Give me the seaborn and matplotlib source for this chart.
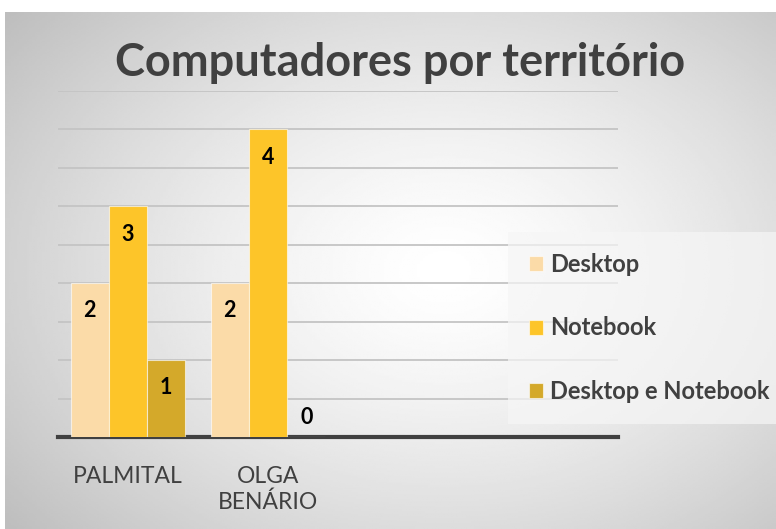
import numpy as np
import pandas as pd
import matplotlib.pyplot as plt
import seaborn as sns

# dados do gráfico
territorios = ["PALMITAL", "OLGA\nBENÁRIO"]
eixo_x = ["PALMITAL", "OLGA\nBENÁRIO", " ", "  "]
series = ["Desktop", "Notebook", "Desktop e Notebook"]
desktop = [2, 2]
notebook = [3, 4]
desktop_notebook = [1, 0]
cores = ["#FBDBA8", "#FDC529", "#D4A92A"]

df = pd.DataFrame({
    "territorio": territorios * 3,
    "tipo": [s for s in series for _ in territorios],
    "qtd": desktop + notebook + desktop_notebook,
})

sns.set_style("white")
plt.rcParams["font.family"] = ["Lato", "DejaVu Sans"]

fig = plt.figure(figsize=(7.76, 5.29), dpi=100)

# fundo com gradiente radial (estilo Excel)
bg = fig.add_axes([5 / 776, 0, 771 / 776, 517 / 529], zorder=-2)
yy, xx = np.mgrid[0:1:300j, 0:1:300j]
r = np.sqrt(((xx - 0.57) / 0.7) ** 2 + ((yy - 0.5) / 0.75) ** 2)
grad = np.clip(1 - 0.24 * r ** 1.4, 0, 1)
bg.imshow(grad, cmap="gray", vmin=0, vmax=1, aspect="auto", extent=[0, 1, 0, 1])
bg.axis("off")

ax = fig.add_axes([58 / 776, 1 - 437 / 529, 560 / 776, 346 / 529])
ax.patch.set_alpha(0)

sns.barplot(data=df, x="territorio", y="qtd", hue="tipo", order=eixo_x,
            hue_order=series, palette=cores, width=0.82, saturation=1,
            edgecolor=(1, 1, 1, 0.6), linewidth=0.8, ax=ax, zorder=3)

ax.set_ylim(0, 4.5)
ax.set_yticks(np.arange(0.5, 4.51, 0.5))
ax.set_yticklabels([])
ax.tick_params(axis="y", length=0)
ax.tick_params(axis="x", length=0, pad=21, labelsize=16.5, labelcolor="#404040")
for lbl in ax.get_xticklabels():
    lbl.set_linespacing(1.25)
ax.yaxis.grid(True, color="#c4c4c4", linewidth=1.3, zorder=0)
ax.set_axisbelow(True)
for s in ["top", "right", "left"]:
    ax.spines[s].set_visible(False)
ax.spines["bottom"].set_color("#404040")
ax.spines["bottom"].set_linewidth(3)
ax.set_xlabel("")
ax.set_ylabel("")

# rótulos de dados
for cont in ax.containers:
    for bar in cont:
        h = bar.get_height()
        if np.isnan(h):
            continue
        xc = bar.get_x() + bar.get_width() / 2
        y = h - 0.36 if h > 0 else 0.25
        ax.text(xc, y, f"{int(h)}", ha="center", va="center",
                fontsize=15.5, fontweight="bold", color="black", zorder=5)

handles, labels = ax.get_legend_handles_labels()
ax.legend(handles, labels, loc="upper left", bbox_to_anchor=(508 / 776, 1 - 232 / 529),
          bbox_transform=fig.transFigure, frameon=True, facecolor="#f6f6f6",
          framealpha=0.7, edgecolor="none", fancybox=False, borderpad=0.9,
          labelspacing=1.7, handlelength=0.6, handleheight=0.6, handletextpad=0.3,
          borderaxespad=0, prop={"weight": "bold", "size": 17}, labelcolor="#404040")

fig.text(0.515, 1 - 63 / 529, "Computadores por território", ha="center", va="center",
         fontsize=32.5, fontweight="bold", color="#404040")

fig.savefig("out.png", dpi=100)
